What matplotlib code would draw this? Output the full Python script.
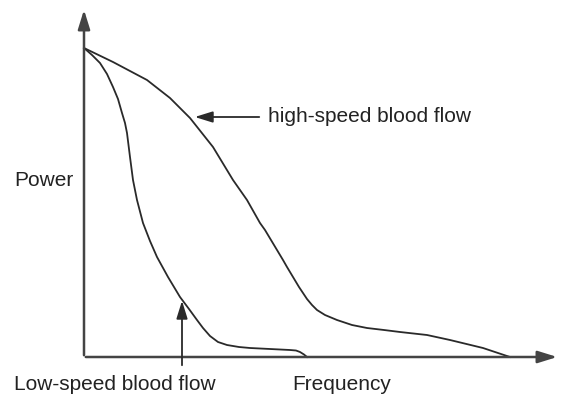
import matplotlib.pyplot as plt

# frequency / power samples for the two Doppler spectra (arbitrary units)
high_freq = [0, 29, 63, 86, 106, 129, 149, 163, 176, 181, 199, 203, 215, 223, 228, 233, 241, 253,
             268, 283, 300, 316, 343, 366, 399, 426]
high_power = [309, 295, 277, 259, 239, 210, 177, 157, 134, 127, 97, 90, 70, 58, 52, 47, 42, 37,
              32, 29, 27, 25, 22, 17, 9, 0]

low_freq = [0, 8, 16, 23, 29, 34, 38, 41, 43, 46, 49, 53, 59, 66, 73, 84, 96, 105, 113, 119,
            126, 134, 143, 155, 166, 186, 206, 212, 216, 220, 223]
low_power = [309, 302, 294, 283, 270, 258, 244, 234, 224, 200, 177, 157, 134, 116, 100, 80, 60,
             48, 37, 29, 21, 15, 12, 10, 9, 8, 7, 6.5, 5, 2.5, 0]

x_max, y_max = 476, 350

fig = plt.figure(figsize=(5.65, 4.07), dpi=100)
ax = fig.add_axes([0, 0, 1, 1])
ax.set_xlim(-84, 565 - 84)
ax.set_ylim(-50, 357)
ax.axis('off')

ink = '#2a2a2a'
font = dict(fontsize=15, family='Liberation Sans', color='#222')
head = '-|>,head_length=0.9,head_width=0.28'

ax.plot(high_freq, high_power, color=ink, lw=1.3, solid_joinstyle='round')
ax.plot(low_freq, low_power, color=ink, lw=1.3, solid_joinstyle='round')

# axes drawn as arrows
ax.annotate('', xy=(x_max, 0), xytext=(-1, 0),
            arrowprops=dict(arrowstyle=head, color='#444', lw=1.8, mutation_scale=13))
ax.annotate('', xy=(0, y_max), xytext=(0, -1),
            arrowprops=dict(arrowstyle=head, color='#444', lw=1.8, mutation_scale=13))

# curve labels
ax.annotate('', xy=(108, 240), xytext=(178, 240),
            arrowprops=dict(arrowstyle=head, color=ink, lw=1.3, mutation_scale=12))
ax.text(184, 240, 'high-speed blood flow', va='center', ha='left', **font)
ax.annotate('', xy=(98, 59), xytext=(98, -11),
            arrowprops=dict(arrowstyle=head, color=ink, lw=1.3, mutation_scale=12))
ax.text(-70, -28, 'Low-speed blood flow', va='center', ha='left', **font)
ax.text(208, -28, 'Frequency', va='center', ha='left', **font)
ax.text(-70, 176, 'Power', va='center', ha='left', **font)

fig.savefig('out.png', dpi=100)
